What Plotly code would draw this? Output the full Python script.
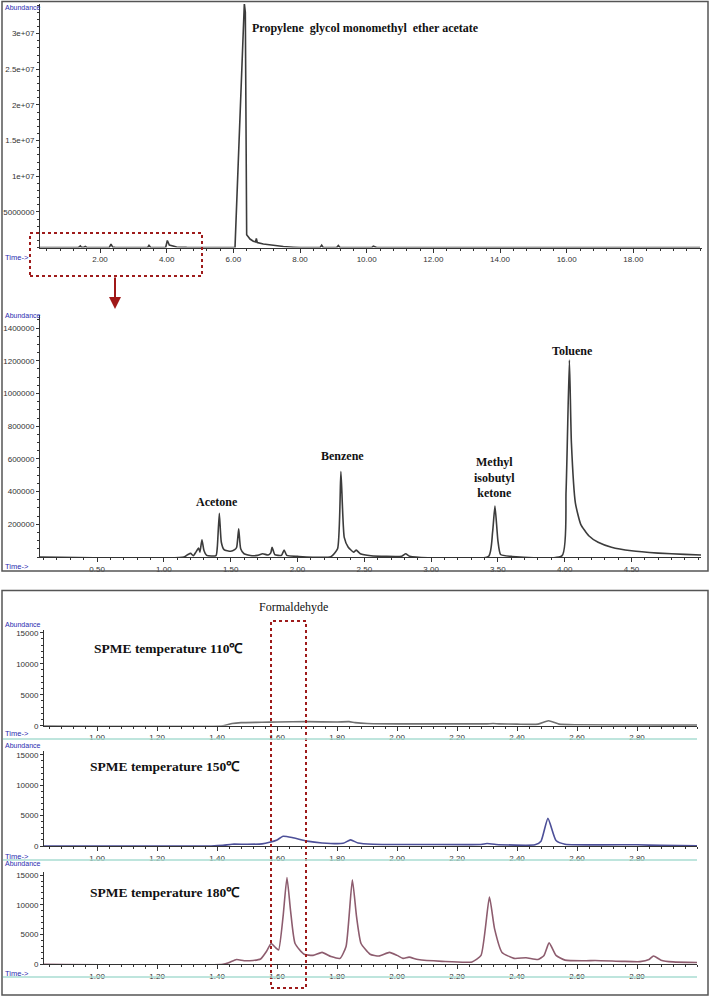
import plotly.graph_objects as go

W, H = 710, 997

# --- data (time in min, abundance) ---
# full chromatogram
t_full = [0.2, 1.2, 1.28, 1.35, 1.41, 1.44, 1.52, 1.56, 1.6, 2.28, 2.33, 2.38, 2.45, 3.43, 3.47, 3.52,
          3.97, 4.02, 4.08, 4.3, 4.6, 5.0, 6.05, 6.33, 6.36, 6.40, 6.5, 6.6, 6.67, 6.69, 6.72, 6.9,
          7.2, 7.5, 7.8, 8.0, 8.6, 8.65, 8.7, 9.1, 9.15, 9.2, 10.15, 10.2, 10.3, 20.0]
a_full = [0, 0, 0.1e6, 0, 0.25e6, 0.05e6, 0.05e6, 0.17e6, 0.02e6, 0.03e6, 0.5e6, 0.08e6, 0.03e6, 0.01e6, 0.3e6, 0.01e6,
          0.02e6, 1.0e6, 0.35e6, 0.08e6, 0.03e6, 0.0, 0.0, 3.42e7, 3.3e7, 1.8e6, 1.2e6, 0.9e6, 0.8e6, 1.3e6, 0.7e6, 0.5e6,
          0.3e6, 0.15e6, 0.05e6, 0.0, 0.0, 0.35e6, 0.0, 0.0, 0.3e6, 0.0, 0.0, 0.2e6, 0.0, 0.0]

# zoom 0-5 min
t_zoom = [0.07, 1.15, 1.18, 1.20, 1.22, 1.24, 1.26, 1.27, 1.285, 1.30, 1.32, 1.39, 1.40, 1.415, 1.43, 1.45,
          1.50, 1.53, 1.545, 1.56, 1.575, 1.60, 1.66, 1.70, 1.74, 1.78, 1.80, 1.81, 1.83, 1.88, 1.90, 1.92,
          2.00, 2.25, 2.30, 2.325, 2.35, 2.38, 2.42, 2.44, 2.47, 2.55, 2.78, 2.81, 2.84, 3.43, 3.46, 3.478,
          3.50, 3.52, 3.6, 3.98, 4.01, 4.035, 4.05, 4.08, 4.12, 4.18, 4.25, 4.35, 4.5, 4.7, 4.9, 5.02]
a_zoom = [0, 0, 15000, 22000, 8000, 30000, 55000, 30000, 105000, 40000, 10000, 8000, 60000, 268000, 90000, 45000,
          35000, 45000, 60000, 172000, 50000, 20000, 8000, 10000, 20000, 12000, 25000, 60000, 15000, 10000, 42000, 10000,
          4000, 2000, 50000, 522000, 120000, 60000, 30000, 42000, 20000, 8000, 5000, 20000, 5000, 4000, 150000, 312000,
          100000, 15000, 4000, 8000, 400000, 1205000, 700000, 330000, 200000, 130000, 90000, 60000, 38000, 24000, 16000, 12000]

# SPME runs
t_110 = [0.823, 1.42, 1.45, 1.48, 1.55, 1.60, 1.70, 1.80, 1.84, 1.86, 1.90, 2.0, 2.2, 2.3, 2.32, 2.34,
         2.40, 2.47, 2.505, 2.54, 2.6, 2.9, 3.0]
a_110 = [0, 0, 350, 500, 550, 600, 650, 600, 650, 500, 350, 300, 300, 300, 350, 300,
         250, 250, 800, 250, 150, 100, 100]

t_150 = [0.823, 1.38, 1.42, 1.45, 1.50, 1.55, 1.575, 1.60, 1.62, 1.65, 1.70, 1.75, 1.82, 1.845, 1.87, 1.92,
         2.1, 2.28, 2.30, 2.33, 2.46, 2.48, 2.503, 2.53, 2.56, 2.8, 2.88, 3.0]
a_150 = [0, 0, 100, 300, 280, 350, 600, 1000, 1600, 1400, 800, 500, 450, 1000, 500, 300,
         250, 250, 400, 250, 200, 800, 4550, 900, 300, 200, 100, 50]

t_180 = [0.823, 1.42, 1.44, 1.465, 1.49, 1.52, 1.545, 1.565, 1.58, 1.595, 1.605, 1.62, 1.633, 1.645, 1.66, 1.69,
         1.72, 1.75, 1.78, 1.81, 1.83, 1.851, 1.865, 1.88, 1.91, 1.94, 1.975, 2.0, 2.02, 2.04, 2.07, 2.15,
         2.25, 2.28, 2.308, 2.325, 2.35, 2.39, 2.43, 2.47, 2.49, 2.507, 2.53, 2.56, 2.63, 2.66, 2.75, 2.81,
         2.84, 2.855, 2.88, 2.92, 3.0]
a_180 = [0, 0, 300, 800, 600, 650, 900, 2200, 3500, 2800, 2400, 8000, 14600, 9000, 3500, 1700,
         1500, 2000, 1300, 1000, 3000, 14200, 8000, 3500, 1700, 1400, 2000, 1500, 1000, 1200, 800, 500,
         400, 1500, 11300, 6000, 2000, 1000, 1100, 800, 1500, 3600, 1500, 700, 600, 650, 500, 450,
         800, 1400, 700, 400, 300]

full_ticks = [2, 4, 6, 8, 10, 12, 14, 16, 18]
full_yticks = [5e6, 1e7, 1.5e7, 2e7, 2.5e7, 3e7]
full_ylabels = ["5000000", "1e+07", "1.5e+07", "2e+07", "2.5e+07", "3e+07"]
zoom_ticks = [0.5, 1.0, 1.5, 2.0, 2.5, 3.0, 3.5, 4.0, 4.5]
zoom_yticks = [200000, 400000, 600000, 800000, 1000000, 1200000, 1400000]
spme_ticks = [1.0, 1.2, 1.4, 1.6, 1.8, 2.0, 2.2, 2.4, 2.6, 2.8]
spme_yticks = [0, 5000, 10000, 15000]


def px(x):
    return x / W


def py(y):
    return 1 - y / H


fig = go.Figure()

# (trace x, trace y, colour, xrange, yrange, left, right, top, bottom, xticks, xminor, yticks, ylabels, yminor, shape)
panels = [
    (t_full, a_full, "#3c3c3c", [0.2, 20.06], [0, 3.415e7], 40, 702, 4, 247.6,
     full_ticks, 0.4, full_yticks, full_ylabels, 1e6, "linear"),
    (t_zoom, a_zoom, "#3c3c3c", [0.073, 5.02], [0, 1.48e6], 40, 701, 315, 557,
     zoom_ticks, 0.1, zoom_yticks, [str(v) for v in zoom_yticks], 50000, "spline"),
    (t_110, a_110, "#707070", [0.823, 3.0], [0, 15500], 44, 697, 629.6, 725.7,
     spme_ticks, 0.04, spme_yticks, [str(v) for v in spme_yticks], 1000, "spline"),
    (t_150, a_150, "#4c4f98", [0.823, 3.0], [0, 15700], 44, 697, 750.6, 846,
     spme_ticks, 0.04, spme_yticks, [str(v) for v in spme_yticks], 1000, "spline"),
    (t_180, a_180, "#8d5c6e", [0.823, 3.0], [0, 15600], 44, 697, 871.5, 964.3,
     spme_ticks, 0.04, spme_yticks, [str(v) for v in spme_yticks], 1000, "spline"),
]

tick_font = dict(family="Liberation Sans", size=8, color="#333333")
layout = {}
for i, (tx, ty, col, xr, yr, l, r, t, b, xt, xm, yt, yl, ym, shp) in enumerate(panels):
    n = "" if i == 0 else str(i + 1)
    fig.add_trace(go.Scatter(x=tx, y=ty, mode="lines", xaxis="x" + n, yaxis="y" + n,
                             line=dict(color=col, width=1.6, shape=shp, smoothing=0.5),
                             showlegend=False))
    layout["xaxis" + n] = dict(
        domain=[px(l), px(r)], range=xr, anchor="y" + n, showgrid=False, zeroline=False,
        automargin=False,
        showline=True, linecolor="#333333", linewidth=1, ticks="outside", ticklen=4,
        tickcolor="#333333", tickvals=xt, ticktext=["%.2f" % v for v in xt], tickfont=tick_font,
        minor=dict(ticks="outside", ticklen=2, dtick=xm, tick0=0, tickcolor="#333333"),
    )
    layout["yaxis" + n] = dict(
        domain=[py(b), py(t)], range=yr, anchor="x" + n, showgrid=False, zeroline=False,
        automargin=False,
        showline=True, linecolor="#333333", linewidth=1, ticks="outside", ticklen=3,
        tickcolor="#333333", tickvals=yt, ticktext=yl, tickfont=tick_font,
        minor=dict(ticks="outside", ticklen=2, dtick=ym, tick0=0, tickcolor="#333333"),
    )

shapes = [
    # panel frames
    dict(type="rect", xref="paper", yref="paper", x0=px(2), x1=px(708), y0=py(571), y1=py(1.5),
         line=dict(color="#555555", width=1.5)),
    dict(type="rect", xref="paper", yref="paper", x0=px(2), x1=px(708), y0=py(995), y1=py(590.5),
         line=dict(color="#555555", width=1.5)),
    # red dotted boxes
    dict(type="rect", xref="paper", yref="paper", x0=px(30), x1=px(202), y0=py(276), y1=py(233),
         line=dict(color="#9e1b1b", width=2, dash="dot")),
    dict(type="rect", xref="paper", yref="paper", x0=px(271), x1=px(306), y0=py(988), y1=py(621),
         line=dict(color="#9e1b1b", width=2, dash="dot")),
]
for yy in [739, 860, 977]:
    shapes.append(dict(type="line", xref="paper", yref="paper", x0=px(3), x1=px(697), y0=py(yy), y1=py(yy),
                       line=dict(color="#a9ddd2", width=1.5)))

serif_b = dict(family="Liberation Serif", size=12, color="#111111")
spme_font = dict(family="Liberation Serif", size=13.5, color="#111111")
annotations = [
    dict(x=px(115), y=py(309), ax=0, ay=-33, xref="paper", yref="paper", showarrow=True,
         arrowhead=2, arrowsize=1.2, arrowwidth=2, arrowcolor="#a01818", text=""),
    dict(x=px(250), y=py(28), text="<b>Propylene  glycol monomethyl  ether acetate</b>", xanchor="left"),
    dict(x=px(217), y=py(502), text="<b>Acetone</b>"),
    dict(x=px(342), y=py(456), text="<b>Benzene</b>"),
    dict(x=px(495), y=py(477), text="<b>Methyl<br>isobutyl<br>ketone</b>"),
    dict(x=px(572), y=py(351), text="<b>Toluene</b>"),
    dict(x=px(293), y=py(607), text="Formaldehyde"),
    dict(x=px(168), y=py(648), text="<b>SPME temperature 110℃</b>", font=spme_font),
    dict(x=px(165), y=py(766), text="<b>SPME temperature 150℃</b>", font=spme_font),
    dict(x=px(165), y=py(892), text="<b>SPME temperature 180℃</b>", font=spme_font),
]
for a in annotations:
    a.setdefault("xref", "paper")
    a.setdefault("yref", "paper")
    a.setdefault("showarrow", False)
    a.setdefault("font", serif_b)
    a.setdefault("xanchor", "center")
    a.setdefault("yanchor", "middle")

blue = dict(family="Liberation Sans", size=7, color="#2b2bb0")
for yy in [7, 315, 624, 745, 863]:
    annotations.append(dict(x=px(3), y=py(yy), xref="paper", yref="paper", text="Abundance",
                            xanchor="left", yanchor="middle", showarrow=False, font=blue))
for yy in [257, 566, 733, 856, 973]:
    annotations.append(dict(x=px(3), y=py(yy), xref="paper", yref="paper", text="Time-&gt;",
                            xanchor="left", yanchor="middle", showarrow=False,
                            font=dict(family="Liberation Sans", size=7.5, color="#2b2bb0")))

fig.update_layout(
    width=W, height=H, margin=dict(l=0, r=0, t=0, b=0),
    paper_bgcolor="white", plot_bgcolor="white",
    shapes=shapes, annotations=annotations, **layout
)

# drop the browser's default 8px page margin so the figure sits at the window's corner
fig.write_html("out.html", config={"displayModeBar": False},
               post_script="document.body.style.margin='0';document.body.style.overflow='hidden';")
